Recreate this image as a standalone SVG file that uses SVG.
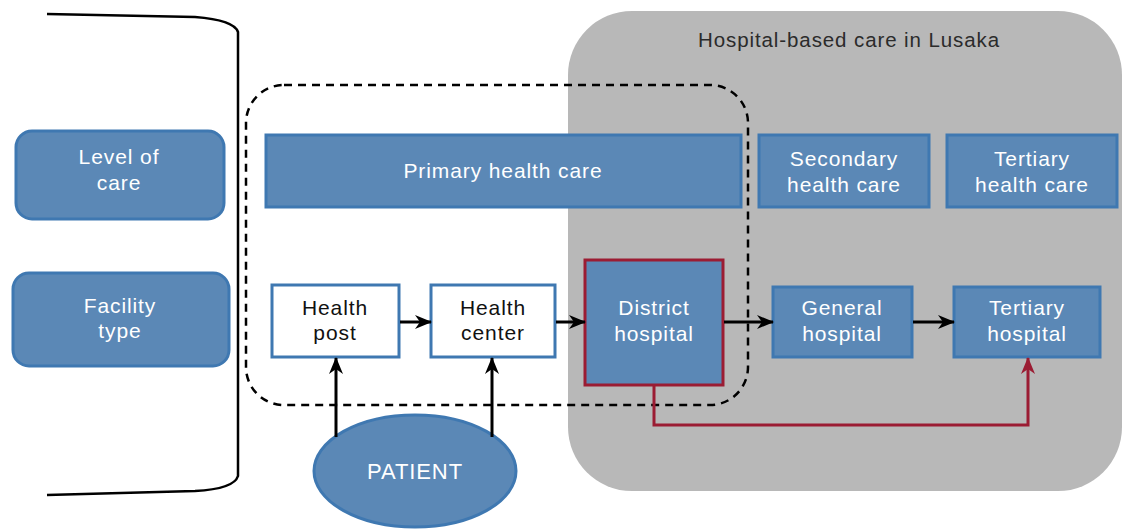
<svg xmlns="http://www.w3.org/2000/svg" width="1122" height="529" viewBox="0 0 1122 529">
<style>
.box{fill:#5b88b6;stroke:#3f78b1;stroke-width:3}
.wbox{fill:#ffffff;stroke:#3f78b1;stroke-width:3}
.red{fill:#5b88b6;stroke:#9b1c33;stroke-width:3}
.t{font-family:"Liberation Sans",Arial,sans-serif;font-size:21px;fill:#ffffff;text-anchor:middle;letter-spacing:0.9px}
.tk{font-family:"Liberation Sans",Arial,sans-serif;font-size:21px;fill:#111111;text-anchor:middle;letter-spacing:0.9px}
.ttl{font-family:"Liberation Sans",Arial,sans-serif;font-size:20.5px;fill:#2b2b2b;text-anchor:middle;letter-spacing:0.9px}
.c{fill:none;stroke:#000;stroke-width:3}
.cr{fill:none;stroke:#9b1c33;stroke-width:3}
</style>
<defs>
<marker id="ah" markerWidth="17" markerHeight="16" refX="16" refY="8" orient="auto" markerUnits="userSpaceOnUse">
<path d="M0,1 L17,8 L0,15 L5,8 Z" fill="#000"/>
</marker>
<marker id="ahr" markerWidth="17" markerHeight="16" refX="16" refY="8" orient="auto" markerUnits="userSpaceOnUse">
<path d="M0,1 L17,8 L0,15 L5,8 Z" fill="#9b1c33"/>
</marker>
</defs>
<rect width="1122" height="529" fill="#ffffff"/>
<g id="hospital-region">
<rect x="568" y="11" width="554" height="480" rx="64" fill="#b8b8b8"/>
<text class="ttl" x="849" y="47">Hospital-based care in Lusaka</text>
</g>
<g id="bracket">
<path d="M47,14 L195,17 Q234,20 238,32 L238,476 Q234,489 195,491 L47,495" fill="none" stroke="#000" stroke-width="2.5"/>
</g>
<g id="primary-region">
<rect x="246" y="85" width="502" height="320" rx="38" fill="none" stroke="#000" stroke-width="2.5" stroke-dasharray="8,6"/>
</g>
<g id="level-of-care">
<rect class="box" x="16" y="131" width="208" height="88" rx="16"/>
<text class="t" x="119" y="164">Level of</text>
<text class="t" x="119" y="190">care</text>
</g>
<g id="facility-type">
<rect class="box" x="13" y="273" width="216" height="93" rx="16"/>
<text class="t" x="120" y="313">Facility</text>
<text class="t" x="120" y="338">type</text>
</g>
<g id="primary-health-care">
<rect class="box" x="266" y="135" width="475" height="72"/>
<text class="t" x="503" y="178">Primary health care</text>
</g>
<g id="secondary-health-care">
<rect class="box" x="759" y="135" width="170" height="72"/>
<text class="t" x="844" y="166">Secondary</text>
<text class="t" x="844" y="192">health care</text>
</g>
<g id="tertiary-health-care">
<rect class="box" x="947" y="135" width="170" height="72"/>
<text class="t" x="1032" y="166">Tertiary</text>
<text class="t" x="1032" y="192">health care</text>
</g>
<g id="health-post">
<rect class="wbox" x="272" y="285" width="127" height="72"/>
<text class="tk" x="335" y="315">Health</text>
<text class="tk" x="335" y="340">post</text>
</g>
<g id="health-center">
<rect class="wbox" x="431" y="285" width="124" height="72"/>
<text class="tk" x="493" y="315">Health</text>
<text class="tk" x="493" y="340">center</text>
</g>
<g id="district-hospital">
<rect class="red" x="585" y="260" width="138" height="125"/>
<text class="t" x="654" y="315">District</text>
<text class="t" x="654" y="341">hospital</text>
</g>
<g id="general-hospital">
<rect class="box" x="773" y="287" width="139" height="70"/>
<text class="t" x="842" y="315">General</text>
<text class="t" x="842" y="341">hospital</text>
</g>
<g id="tertiary-hospital">
<rect class="box" x="954" y="287" width="146" height="70"/>
<text class="t" x="1027" y="315">Tertiary</text>
<text class="t" x="1027" y="341">hospital</text>
</g>
<g id="patient">
<ellipse cx="415" cy="471" rx="101" ry="56" fill="#5b88b6" stroke="#3f78b1" stroke-width="3"/>
<text class="t" x="415" y="479" style="font-size:22px">PATIENT</text>
</g>
<g id="connectors">
<line class="c" x1="400" y1="322" x2="431" y2="322" marker-end="url(#ah)"/>
<line class="c" x1="556" y1="322" x2="585" y2="322" marker-end="url(#ah)"/>
<line class="c" x1="724" y1="322" x2="773" y2="322" marker-end="url(#ah)"/>
<line class="c" x1="913" y1="322" x2="954" y2="322" marker-end="url(#ah)"/>
<line class="c" x1="336" y1="437" x2="336" y2="358" marker-end="url(#ah)"/>
<line class="c" x1="492" y1="437" x2="492" y2="358" marker-end="url(#ah)"/>
<path class="cr" d="M654,386 L654,425 L1028,425 L1028,358" marker-end="url(#ahr)"/>
</g>
</svg>
